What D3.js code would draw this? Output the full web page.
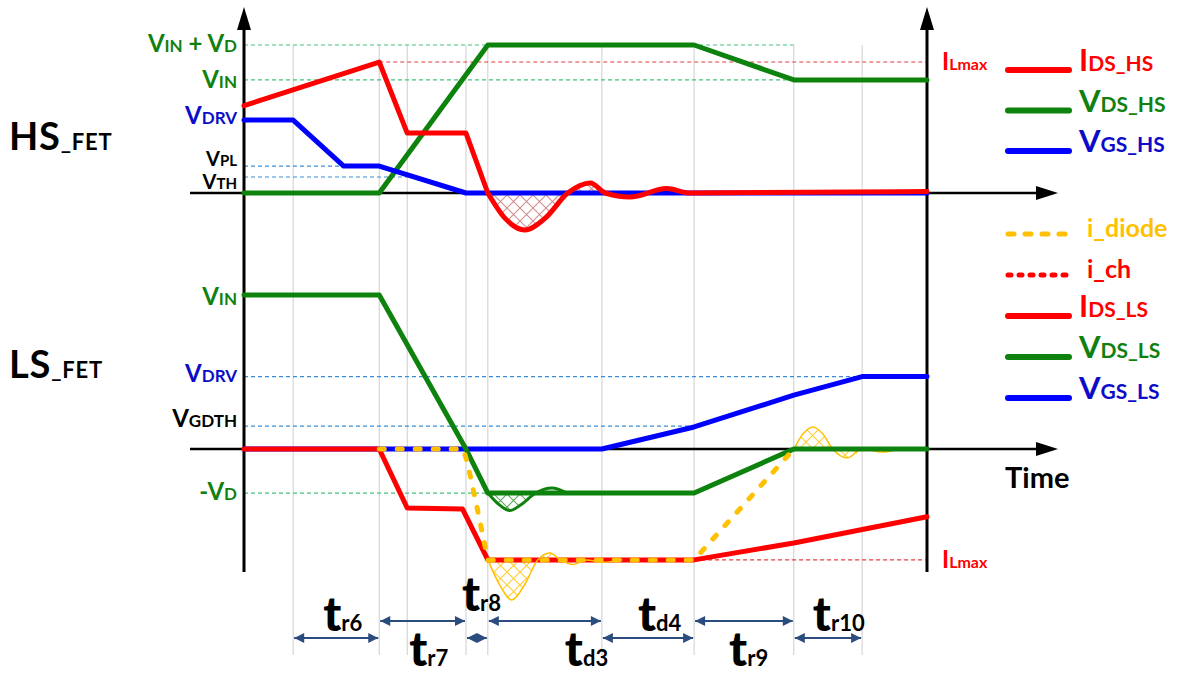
<!DOCTYPE html>
<html>
<head>
<meta charset="utf-8">
<script src="https://cdn.jsdelivr.net/npm/d3@7"></script>
<style>
body { margin: 0; background: #fff; }
svg text { font-family: Lato, "Open Sans", sans-serif; font-weight: 700; white-space: pre; }
</style>
</head>
<body>
<svg id="chart" width="1186" height="677"></svg>
<script>
// ---- data (time in % of the window, levels normalised per panel) ----
var gridTimes = [7.2, 19.8, 23.9, 32.5, 35.7, 52.4, 65.9, 80.5, 90.5];

// HS panel : 1 = VIN + VD
var hsIds = [[0, 0.59], [19.8, 0.885], [23.9, 0.405], [32.5, 0.405], [35.7, 0]];
var hsIdsRing = [[35.7, 0], [38.2, -0.17], [41.1, -0.25], [44.1, -0.17], [47.4, 0], [50.7, 0.068],
                 [52.9, 0], [56.5, -0.027], [61.9, 0.03], [65.3, 0], [100, 0.01]];
var hsVds = [[0, 0], [19.8, 0], [35.7, 1], [65.9, 1], [80.5, 0.764], [100, 0.764]];
var hsVgs = [[0, 0.493], [7.2, 0.493], [14.6, 0.182], [19.8, 0.182], [32.5, 0], [100, 0]];

// LS panel : 1 = VIN
var lsVds = [[0, 1], [19.8, 1], [32.5, 0], [35.7, -0.286], [65.9, -0.286], [80.5, 0], [100, 0]];
var lsVdsRing = [[35.7, -0.286], [37.3, -0.36], [38.9, -0.40], [40.6, -0.36], [42.7, -0.286],
                 [45.1, -0.253], [47.3, -0.286]];
var lsIds = [[0, 0], [19.8, 0], [23.9, -0.383], [32.0, -0.39], [35.7, -0.72], [65.9, -0.72],
             [80.5, -0.61], [100, -0.44]];
var lsVgs = [[0, 0], [52.4, 0], [65.9, 0.143], [80.5, 0.35], [90.5, 0.47], [100, 0.47]];
var iDiode = [[19.8, 0], [32.1, 0], [32.5, -0.058], [33.1, -0.169], [33.8, -0.312], [34.5, -0.461],
              [35.1, -0.591], [35.7, -0.72], [65.9, -0.72], [80.5, 0]];
var iDiodeRing1 = [[35.7, -0.72], [37.4, -0.88], [39.2, -0.98], [41.1, -0.88], [43.0, -0.72],
                   [44.8, -0.675], [46.3, -0.72], [48.2, -0.75], [50.2, -0.72], [52.5, -0.735], [55.3, -0.72]];
var iDiodeRing2 = [[80.5, 0], [81.9, 0.1], [83.3, 0.143], [84.7, 0.1], [86.2, 0], [88.3, -0.058],
                   [90.5, 0], [93.5, -0.02], [96, 0]];

// reference levels: label, value, colour key, dashed line from / to (time)
var topLevels = [
  {name: "V_{IN} + V_{D}", v: 1, c: "green", from: 0, to: 80.5},
  {name: "V_{IN}", v: 0.764, c: "green", from: 0, to: 100},
  {name: "V_{DRV}", v: 0.493, c: "blue", from: null, to: null},
  {name: "V_{PL}", v: 0.182, c: "black", from: 0, to: 14.6},
  {name: "V_{TH}", v: 0.108, c: "black", from: 0, to: 23.9}
];
var botLevels = [
  {name: "V_{IN}", v: 1, c: "green", from: null, to: null},
  {name: "V_{DRV}", v: 0.47, c: "blue", from: 0, to: 90.5},
  {name: "V_{GDTH}", v: 0.149, c: "black", from: 0, to: 65.9},
  {name: "-V_{D}", v: -0.286, c: "green", from: 0, to: 35.7}
];
var topILmax = {name: "I_{Lmax}", v: 0.885, from: 19.8, to: 100};
var botILmax = {name: "I_{Lmax}", v: -0.72, from: 65.9, to: 100};

var intervals = [
  {name: "t_{r6}", from: 7.2, to: 19.8},
  {name: "t_{r7}", from: 19.8, to: 32.5},
  {name: "t_{r8}", from: 32.5, to: 35.7},
  {name: "t_{d3}", from: 35.7, to: 52.4},
  {name: "t_{d4}", from: 52.4, to: 65.9},
  {name: "t_{r9}", from: 65.9, to: 80.5},
  {name: "t_{r10}", from: 80.5, to: 90.5}
];

var legendTop = [
  {name: "I_{DS_HS}", c: "red", dash: null},
  {name: "V_{DS_HS}", c: "green", dash: null},
  {name: "V_{GS_HS}", c: "blue", dash: null}
];
var legendBot = [
  {name: "i_diode", c: "yellow", dash: "6,11"},
  {name: "i_ch", c: "red", dash: "3,8"},
  {name: "I_{DS_LS}", c: "red", dash: null},
  {name: "V_{DS_LS}", c: "green", dash: null},
  {name: "V_{GS_LS}", c: "blue", dash: null}
];

// ---- styles ----
var col = {red: "#ff0000", green: "#0d820d", blue: "#0000ff", yellow: "#ffc000", black: "#000"};
var textCol = {red: "#ff0000", green: "#108010", blue: "#0c0cc8", yellow: "#ffc000", black: "#000"};
var refCol = {green: "#45c27c", blue: "#3b8ed6", black: "#3b8ed6", red: "#e43c3c"};
var navy = "#2b4c7e";

var svg = d3.select("#chart");
var defs = svg.append("defs");

var x = d3.scaleLinear().domain([0, 100]).range([244, 927]);
var yTop = d3.scaleLinear().domain([0, 1]).range([193, 45]);
var yBot = d3.scaleLinear().domain([0, 1]).range([449, 295]);

function hatch(id, color) {
  var s = 13;
  var p = defs.append("pattern").attr("id", id)
    .attr("patternUnits", "userSpaceOnUse").attr("width", s).attr("height", s);
  p.append("path").attr("d", "M0,0L" + s + "," + s + "M" + s + ",0L0," + s)
    .attr("stroke", color).attr("stroke-width", 1.1).attr("fill", "none");
}
hatch("hRed", "#d08f8f");
hatch("hGreen", "#5aa85a");
hatch("hYellow", "#ffcc33");

defs.append("marker").attr("id", "arr")
  .attr("viewBox", "0 -5 10 10").attr("refX", 10).attr("refY", 0)
  .attr("markerUnits", "userSpaceOnUse")
  .attr("markerWidth", 11).attr("markerHeight", 10)
  .attr("orient", "auto-start-reverse")
  .append("path").attr("d", "M0,-5L10,0L0,5Z").attr("fill", navy);

// rich label: "V_{IN}" -> big V, small IN on same baseline
function rich(t, str, big, small) {
  var parts = str.split(/_\{|\}/);
  parts.forEach(function(p, i) {
    if (!p) return;
    t.append("tspan").attr("font-size", i % 2 ? small : big).text(p);
  });
  return t;
}

// ---- grid ----
svg.append("g").selectAll("line").data(gridTimes).enter().append("line")
  .attr("x1", d => x(d)).attr("x2", d => x(d))
  .attr("y1", 45).attr("y2", 655)
  .attr("stroke", "#cdcdcd").attr("stroke-width", 1);

// ---- reference dashed lines ----
function refLines(levels, y) {
  svg.append("g").selectAll("line").data(levels.filter(d => d.from !== null)).enter().append("line")
    .attr("x1", d => x(d.from)).attr("x2", d => x(d.to))
    .attr("y1", d => y(d.v)).attr("y2", d => y(d.v))
    .attr("stroke", d => refCol[d.c || "red"]).attr("stroke-width", 1.2)
    .attr("stroke-dasharray", "4,3");
}
refLines(topLevels, yTop);
refLines(botLevels, yBot);
refLines([topILmax], yTop);
refLines([botILmax], yBot);

// ---- axes ----
var axes = svg.append("g");
[0, 100].forEach(function(t) {
  axes.append("line").attr("x1", x(t)).attr("x2", x(t)).attr("y1", 26).attr("y2", 572)
    .attr("stroke", "#000").attr("stroke-width", 3);
  axes.append("path").attr("d", "M" + x(t) + ",7L" + (x(t) - 7) + ",30L" + (x(t) + 7) + ",30Z");
});
[yTop(0), yBot(0)].forEach(function(yy) {
  axes.append("line").attr("x1", 190).attr("x2", 1040).attr("y1", yy).attr("y2", yy)
    .attr("stroke", "#000").attr("stroke-width", 2.5);
  axes.append("path").attr("d", "M1058," + yy + "L1036," + (yy - 7) + "L1036," + (yy + 7) + "Z");
});

// ---- curves ----
function draw(data, y, color, curve, width, dash) {
  var gen = d3.line().x(d => x(d[0])).y(d => y(d[1])).curve(curve || d3.curveLinear);
  return svg.append("path").datum(data).attr("d", gen)
    .attr("fill", "none").attr("stroke", color).attr("stroke-width", width || 5)
    .attr("stroke-linejoin", "round").attr("stroke-linecap", "round")
    .attr("stroke-dasharray", dash || null);
}
function hatchArea(data, y, base, fill, maxT) {
  var gen = d3.area().x(d => x(d[0])).y0(y(base)).y1(d => y(d[1])).curve(d3.curveMonotoneX);
  svg.append("path").datum(data.filter(d => d[0] <= maxT)).attr("d", gen)
    .attr("fill", "url(#" + fill + ")").attr("stroke", "none");
}

// HS
hatchArea(hsIdsRing, yTop, 0, "hRed", 52.9);
draw(hsVds, yTop, col.green);
draw(hsVgs, yTop, col.blue);
draw(hsIds, yTop, col.red);
draw(hsIdsRing, yTop, col.red, d3.curveMonotoneX);

// LS
hatchArea(lsVdsRing, yBot, -0.286, "hGreen", 42.7);
hatchArea(iDiodeRing1, yBot, -0.72, "hYellow", 46.3);
hatchArea(iDiodeRing2, yBot, 0, "hYellow", 90.5);
draw(lsVgs, yBot, col.blue);
draw(lsIds, yBot, col.red);
draw(iDiodeRing1, yBot, col.yellow, d3.curveMonotoneX, 1.5);
draw(iDiodeRing2, yBot, col.yellow, d3.curveMonotoneX, 1.5);
draw(lsVds, yBot, col.green);
draw(lsVdsRing, yBot, col.green, d3.curveMonotoneX, 3);
draw(iDiode, yBot, col.yellow, d3.curveLinear, 5, "5,13");

// ---- level labels ----
var topDy = [7, 8, 4, 0, 12];
var botDy = [10, 5, 1, 7];
var topSize = [[24, 17], [24, 17], [24, 17], [20, 15], [20, 15]];
function levelLabels(levels, y, dys, sizes) {
  levels.forEach(function(d, i) {
    var t = svg.append("text").attr("x", 237).attr("y", y(d.v) + dys[i])
      .attr("text-anchor", "end").attr("fill", textCol[d.c]);
    rich(t, d.name, sizes ? sizes[i][0] : 24, sizes ? sizes[i][1] : 17);
  });
}
levelLabels(topLevels, yTop, topDy, topSize);
levelLabels(botLevels, yBot, botDy);

[[topILmax, yTop], [botILmax, yBot]].forEach(function(p) {
  var t = svg.append("text").attr("x", 942).attr("y", p[1](p[0].v) + 8).attr("fill", textCol.red);
  rich(t, p[0].name, 24, 16);
});

// ---- panel names ----
rich(svg.append("text").attr("x", 9).attr("y", 150).attr("fill", "#000")
  .attr("letter-spacing", 0.8), "HS_{_FET}", 38, 22);
rich(svg.append("text").attr("x", 9).attr("y", 378).attr("fill", "#000")
  .attr("letter-spacing", 0.8), "LS_{_FET}", 38, 22);

svg.append("text").attr("x", 1005).attr("y", 488).attr("font-size", 29).text("Time");

// ---- legends ----
function legend(items, y0, step) {
  items.forEach(function(d, i) {
    var yy = y0 + i * step;
    svg.append("line").attr("x1", 1008).attr("x2", 1069).attr("y1", yy).attr("y2", yy)
      .attr("stroke", col[d.c]).attr("stroke-width", d.dash ? 5 : 6)
      .attr("stroke-linecap", "round").attr("stroke-dasharray", d.dash);
    var t = svg.append("text").attr("x", d.dash ? 1087 : 1079).attr("y", yy + (d.dash ? 3 : 1))
      .attr("fill", textCol[d.c]);
    rich(t, d.name, d.dash ? 25 : 31, 21);
  });
}
legend(legendTop, 70, 40.5);
legend(legendBot, 234, 41);

// ---- interval arrows ----
var arrowY = [638, 621];
var labelY = [631, 666];
var labelDx = [30, 30, -4, 77, 36, 35, 19];
intervals.forEach(function(d, i) {
  var row = i % 2;
  svg.append("line").attr("x1", x(d.from) + 1).attr("x2", x(d.to) - 1)
    .attr("y1", arrowY[row]).attr("y2", arrowY[row])
    .attr("stroke", navy).attr("stroke-width", 2)
    .attr("marker-start", "url(#arr)").attr("marker-end", "url(#arr)");
  var ly = (d.name === "t_{r8}") ? 611 : labelY[row];
  var t = svg.append("text").attr("x", x(d.from) + labelDx[i]).attr("y", ly).attr("fill", "#000");
  var parts = d.name.split(/_\{|\}/);
  t.append("tspan").attr("font-size", 48).attr("font-weight", 900).text(parts[0]);
  t.append("tspan").attr("font-size", 22).text(parts[1]);
});
</script>
</body>
</html>
